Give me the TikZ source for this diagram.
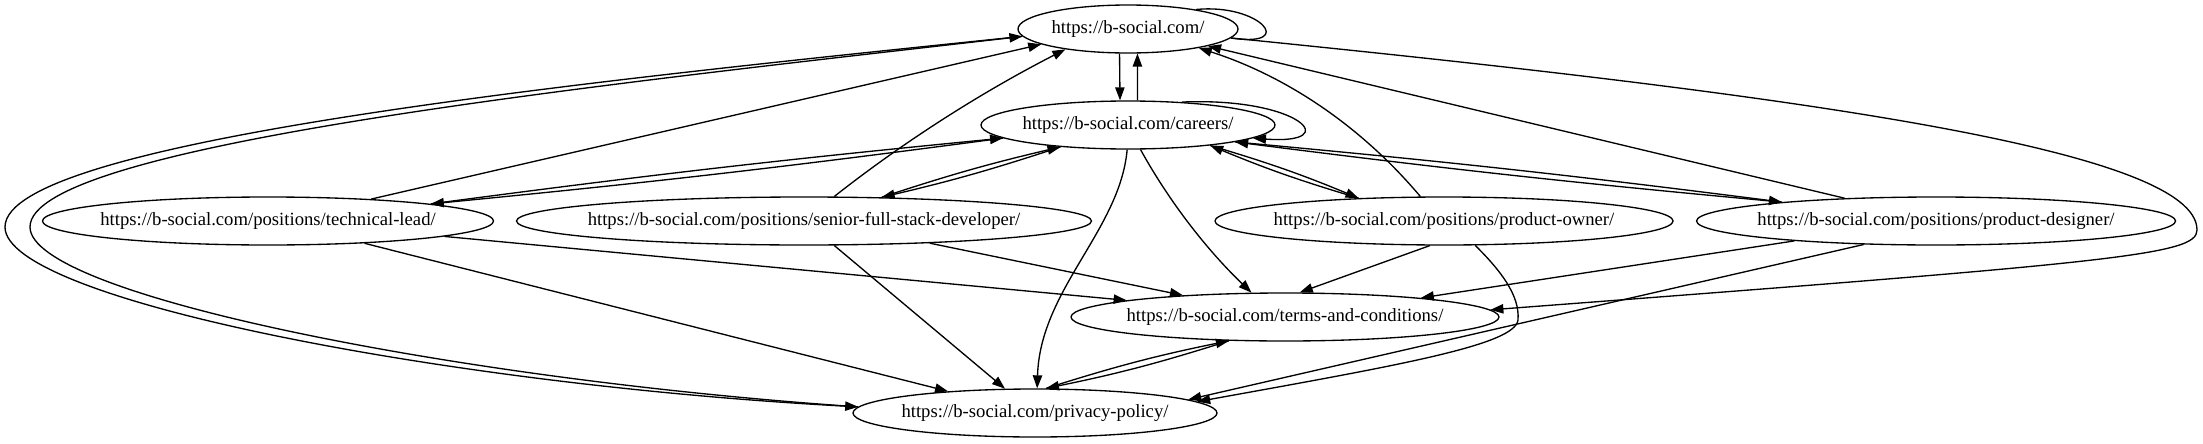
\documentclass[tikz,border=0pt]{standalone}
\usepackage{fontspec}
\setmainfont{Liberation Serif}
\usetikzlibrary{shapes.geometric,arrows.meta}

\tikzset{
  page/.style={draw, ellipse, line width=1pt, inner sep=0pt, minimum height=36pt,
    font=\fontsize{14}{16}\selectfont},
  link/.style={line width=1pt, -{Triangle[length=9.75pt,width=7pt]}},
  loopline/.style={line width=1pt},
}

\begin{document}
\begin{tikzpicture}[x=0.75pt, y=-0.75pt]
\useasboundingbox (0,0) rectangle (2203,443);

    % pages
    \node[page, minimum width=165pt]    (home)      at (1128,29)  {\makebox[0pt]{https://b-social.com/}};
    \node[page, minimum width=220.5pt]  (careers)   at (1128,125) {\makebox[0pt]{https://b-social.com/careers/}};
    \node[page, minimum width=338.25pt] (lead)      at (268,221)  {\makebox[0pt]{https://b-social.com/positions/technical-lead/}};
    \node[page, minimum width=431.25pt] (fullstack) at (804,221)  {\makebox[0pt]{https://b-social.com/positions/senior-full-stack-developer/}};
    \node[page, minimum width=343.5pt]  (owner)     at (1444,221) {\makebox[0pt]{https://b-social.com/positions/product-owner/}};
    \node[page, minimum width=359.25pt] (designer)  at (1936,221) {\makebox[0pt]{https://b-social.com/positions/product-designer/}};
    \node[page, minimum width=321pt]    (terms)     at (1285,317) {\makebox[0pt]{https://b-social.com/terms-and-conditions/}};
    \node[page, minimum width=273pt]    (privacy)   at (1035,413) {\makebox[0pt]{https://b-social.com/privacy-policy/}};

    % home
    \draw[loopline] (home.16) .. controls (1260,3) and (1298,48) .. (home.-5);
    \draw[link] (home.-109) -- (careers.108);
    \draw[link] (careers.69) -- (home.-69);
    \draw[link] (home.184) .. controls (600,80) and (5,140) .. (5,227) .. controls (5,300) and (450,385) .. (privacy.178);
    \draw[link] (privacy.178) .. controls (460,380) and (30,295) .. (30,227) .. controls (30,145) and (600,85) .. (home.184);
    \draw[link] (home.-5) .. controls (1800,95) and (2197,150) .. (2197,230) .. controls (2197,255) and (2120,262) .. (terms.2.2);

    % careers
    \draw[link] (careers.23) .. controls (1300,97) and (1345,145) .. (careers.-6);
    \draw[link] (careers.186.7) to[bend left=1] (lead.6.9);
    \draw[link] (lead.6.9) to[bend left=1] (careers.186.7);
    \draw[link] (careers.198) to[bend left=2.5] (fullstack.17.4);
    \draw[link] (fullstack.17.4) to[bend left=2.5] (careers.198);
    \draw[link] (careers.-14.8) to[bend left=3] (owner.165);
    \draw[link] (owner.165) to[bend left=3] (careers.-14.8);
    \draw[link] (careers.-9.6) to[bend left=1] (designer.173.6);
    \draw[link] (designer.173.6) to[bend left=1] (careers.-9.6);
    \draw[link] (careers.-63) .. controls (1170,203) and (1208,251) .. (terms.144);
    \draw[link] (careers.-92) .. controls (1120,230) and (1040,290) .. (privacy.85);

    % positions
    \draw[link] (lead.12.6) -- (home.190);
    \draw[link] (lead.-5.8) -- (terms.174.7);
    \draw[link] (lead.-13.7) -- (privacy.166);

    \draw[link] (fullstack.39.5) .. controls (906,140) and (984,91) .. (home.198);
    \draw[link] (fullstack.-10.7) -- (terms.168.7);
    \draw[link] (fullstack.-39.5) -- (privacy.141.7);

    \draw[link] (owner.134) .. controls (1361,126) and (1286,76) .. (home.-15.6);
    \draw[link] (owner.-120.5) -- (terms.59.5);
    \draw[link] (owner.-38.4) .. controls (1500,270) and (1520,295) .. (1518,320) .. controls (1515,345) and (1400,365) .. (privacy.4.6);

    \draw[link] (designer.166.6) -- (home.-12.3);
    \draw[link] (designer.188.1) -- (terms.8);
    \draw[link] (designer.198.7) -- (privacy.5.5);

    % terms and privacy
    \draw[link] (terms.203) to[bend left=3] (privacy.66.5);
    \draw[link] (privacy.66.5) to[bend left=3] (terms.203);

\end{tikzpicture}
\end{document}
